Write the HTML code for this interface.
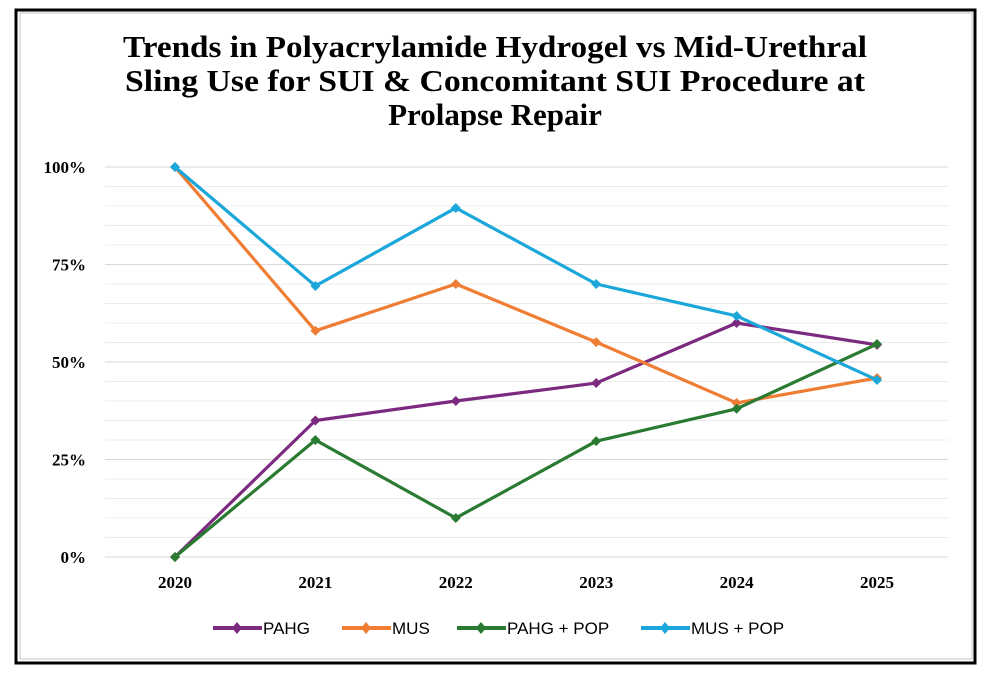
<!DOCTYPE html>
<html><head><meta charset="utf-8"><style>
html,body{margin:0;padding:0;background:#fff;width:988px;height:674px;overflow:hidden}
</style></head><body>
<svg width="988" height="674" xmlns="http://www.w3.org/2000/svg">
<rect x="16" y="10" width="959" height="653" fill="#fff" stroke="#000" stroke-width="3"/>
<rect x="20" y="13" width="952" height="646" fill="none" stroke="#d9d9d9" stroke-width="1.5"/>
<g font-family="'Liberation Serif',serif" font-weight="bold" font-size="31" text-anchor="middle" fill="#000">
<text x="495" y="57" textLength="744" lengthAdjust="spacingAndGlyphs">Trends in Polyacrylamide Hydrogel vs Mid-Urethral</text>
<text x="495" y="91" textLength="740" lengthAdjust="spacingAndGlyphs">Sling Use for SUI &amp; Concomitant SUI Procedure at</text>
<text x="495" y="125">Prolapse Repair</text>
</g>
<g id="grid"></g><g id="yticks"></g><g id="xticks"></g><g id="series"></g><g id="legend"></g>
</svg>
<script>
const years=['2020','2021','2022','2023','2024','2025'];
const pahg=[0,35,40,44.6,60,54.4];
const mus=[100,58,70,55.1,39.5,45.9];
const pahgPop=[0,30,10,29.7,38,54.6];
const musPop=[100,69.5,89.5,70,61.8,45.4];
const yTickLabels=['0%','25%','50%','75%','100%'];
const yTickValues=[0,25,50,75,100];
const seriesNames=['PAHG','MUS','PAHG  + POP','MUS + POP'];
const NS='http://www.w3.org/2000/svg';
const colors=['#7b2a7f','#ef7d34','#2a7a32','#1ba7da'];
const X=i=>175+i*140.4, Y=v=>557-v*3.9;
function mk(t,a,p){const e=document.createElementNS(NS,t);for(const k in a)e.setAttribute(k,a[k]);p.appendChild(e);return e;}
const grid=document.getElementById('grid');
for(let v=0;v<=100;v+=5){const l=mk('line',{x1:105,x2:948,y1:Y(v),y2:Y(v),stroke:v%25?'#ececec':'#d9d9d9','stroke-width':1},grid);

}
const yt=document.getElementById('yticks');
yTickValues.forEach((v,i)=>{const t=mk('text',{x:86,y:Y(v)+6,'text-anchor':'end','font-family':"'Liberation Serif',serif",'font-weight':'bold','font-size':'17'},yt);t.textContent=yTickLabels[i];

});
const xt=document.getElementById('xticks');
years.forEach((y,i)=>{const t=mk('text',{x:X(i),y:588,'text-anchor':'middle','font-family':"'Liberation Serif',serif",'font-weight':'bold','font-size':'17'},xt);t.textContent=y;

});
const sg=document.getElementById('series');
[pahg,mus,pahgPop,musPop].forEach((d,s)=>{
const g=mk('g',{},sg);


const pl=mk('polyline',{points:d.map((v,i)=>X(i)+','+Y(v)).join(' '),fill:'none',stroke:colors[s],'stroke-width':3.2,'stroke-linejoin':'round'},g);


d.forEach((v,i)=>{const x=X(i),y=Y(v);const m=mk('polygon',{points:`${x},${y-5} ${x+5},${y} ${x},${y+5} ${x-5},${y}`,fill:colors[s]},g);

});
});
const lg=document.getElementById('legend');
const lx=[213,342,457,641];
seriesNames.forEach((n,s)=>{const g=mk('g',{},lg);


mk('line',{x1:lx[s],x2:lx[s]+49,y1:628,y2:628,stroke:colors[s],'stroke-width':4},g);
const x=lx[s]+24;mk('polygon',{points:`${x},622 ${x+5},628 ${x},634 ${x-5},628`,fill:colors[s]},g);
const t=mk('text',{x:lx[s]+50,y:634,'font-family':"'Liberation Sans',sans-serif",'font-size':'17'},g);t.textContent=n;});
</script>
</body></html>
